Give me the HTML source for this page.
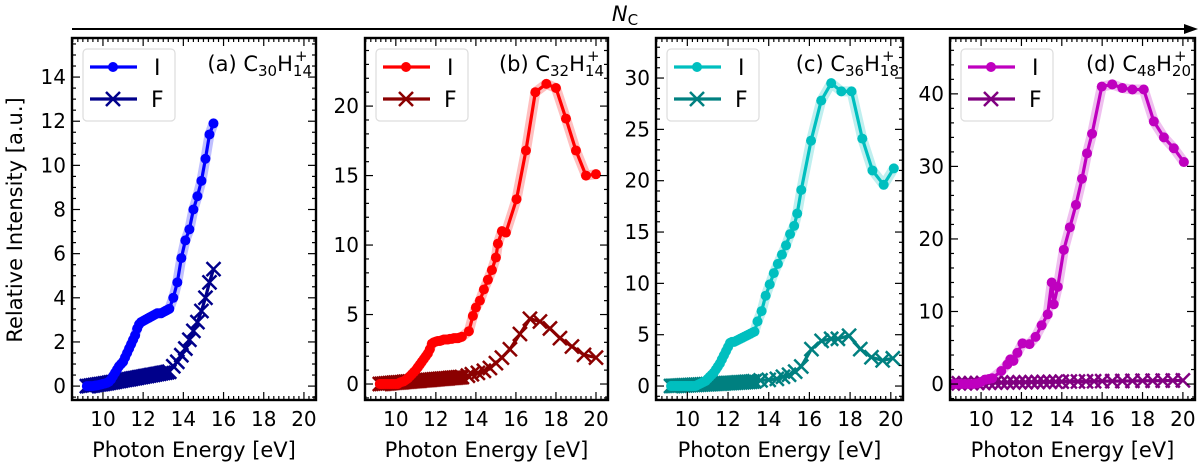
<!DOCTYPE html>
<html><head><meta charset="utf-8"><style>
html,body{margin:0;padding:0;background:#fff;}
svg{display:block;font-family:"DejaVu Sans","Liberation Sans",sans-serif;}
</style></head><body>
<svg id="fig" width="1200" height="466" viewBox="0 0 1200 466">
<g>
<line x1="72" y1="29" x2="1185" y2="29" stroke="#000" stroke-width="2"/>
<polygon points="1198,29 1184,24 1184,34" fill="#000"/>
<text x="625" y="21" font-size="21" font-style="italic" text-anchor="middle">N<tspan font-size="15" font-style="normal" dy="4">C</tspan></text>
</g>
<text transform="translate(22,220) rotate(-90)" font-size="21" text-anchor="middle">Relative Intensity [a.u.]</text>
</svg>
<script>
// shared dense energy grid (eV)
const denseE = [9.2,9.3,9.4,9.5,9.6,9.7,9.8,9.9,10.0,10.1,10.2,10.3,10.4,10.5,10.6,10.7,10.8,10.9,11.0,11.1,11.2,11.3,11.4,11.5,11.6,11.7,11.8,11.9,12.0,12.1,12.2,12.3,12.4,12.5,12.6,12.7,12.8,12.9,13.0,13.1,13.2,13.3];
// panel a
const aSparseE = [13.5,13.7,13.9,14.1,14.3,14.5,14.7,14.9,15.1,15.3,15.5];
const aIDense = [0,0,0,0,0.02,0.03,0.05,0.07,0.1,0.12,0.15,0.2,0.3,0.45,0.6,0.75,0.9,1.0,1.1,1.3,1.5,1.7,1.9,2.1,2.3,2.6,2.8,2.9,2.95,3.0,3.05,3.1,3.15,3.2,3.25,3.3,3.3,3.3,3.35,3.4,3.45,3.5];
const aISparse = [4.0,4.7,5.8,6.6,7.1,8.0,8.6,9.3,10.3,11.4,11.9];
const aFDense = [0,0,0.02,0.03,0.05,0.06,0.08,0.09,0.1,0.12,0.13,0.15,0.17,0.18,0.2,0.22,0.23,0.25,0.27,0.28,0.3,0.31,0.33,0.35,0.36,0.38,0.4,0.41,0.43,0.45,0.46,0.48,0.5,0.51,0.53,0.55,0.56,0.58,0.6,0.61,0.63,0.65];
const aFSparse = [0.9,1.1,1.4,1.7,2.1,2.5,2.9,3.4,4.0,4.7,5.3];
// panel b
const bISparseE = [13.65,13.85,14.0,14.2,14.4,14.6,14.8,15.0,15.1,15.3,15.5,16.03,16.5,16.97,17.52,18.0,18.5,19.0,19.5,20.0];
const bIDense = [0,0,0,0,0,0,0,0,0,0,0.1,0.15,0.2,0.3,0.4,0.55,0.7,0.85,1.0,1.2,1.4,1.6,1.8,2.0,2.2,2.5,2.9,3.0,3.05,3.1,3.1,3.15,3.2,3.2,3.2,3.25,3.25,3.3,3.3,3.3,3.35,3.4];
const bISparse = [3.8,4.9,5.5,6.0,6.8,7.5,8.2,9.1,10.1,11.0,10.9,13.3,16.8,21.0,21.6,21.3,19.1,16.8,15.0,15.1];
const bFSparseE = [13.6,13.8,14.1,14.4,14.7,15.0,15.3,15.7,16.2,16.7,17.2,17.7,18.2,18.8,19.4,20.0];
const bFDense = [0,0.01,0.02,0.04,0.05,0.06,0.07,0.09,0.1,0.11,0.12,0.13,0.15,0.16,0.17,0.18,0.2,0.21,0.22,0.23,0.24,0.26,0.27,0.28,0.29,0.3,0.32,0.33,0.34,0.35,0.37,0.38,0.39,0.4,0.41,0.43,0.44,0.45,0.46,0.48,0.49,0.5];
const bFSparse = [0.6,0.7,0.8,0.95,1.15,1.5,1.9,2.5,3.6,4.7,4.5,4.0,3.3,2.7,2.1,1.9];
// panel c
const cISparseE = [13.45,13.65,13.85,14.05,14.25,14.45,14.65,14.85,15.05,15.25,15.4,15.6,16.08,16.58,17.07,17.57,18.07,18.6,19.1,19.65,20.15];
const cIDense = [0,0,0,0,0,0,0,0,0,0,0,0,0,0.1,0.2,0.3,0.4,0.5,0.7,0.9,1.1,1.3,1.6,1.9,2.2,2.6,3.0,3.4,3.8,4.2,4.3,4.3,4.4,4.5,4.6,4.7,4.8,4.9,5.0,5.1,5.2,5.3];
const cISparse = [6.3,7.3,8.8,9.9,11.0,11.9,12.8,13.7,14.8,15.6,16.8,19.1,23.9,27.8,29.5,28.7,28.7,24.1,21.0,19.6,21.2];
const cFSparseE = [13.6,14.0,14.4,14.7,15.0,15.3,15.6,16.1,16.6,17.07,17.4,17.95,18.5,19.05,19.6,20.1];
const cFDense = [0,0.01,0.02,0.03,0.04,0.05,0.06,0.07,0.08,0.09,0.1,0.11,0.12,0.13,0.14,0.15,0.16,0.17,0.18,0.19,0.2,0.21,0.22,0.23,0.24,0.25,0.26,0.28,0.29,0.3,0.31,0.32,0.33,0.35,0.36,0.37,0.38,0.4,0.41,0.42,0.44,0.46];
const cFSparse = [0.55,0.6,0.7,0.9,1.1,1.4,1.9,3.6,4.4,4.6,4.6,4.9,3.6,2.8,2.5,2.7];
// panel d
const dIE = [8.6,8.8,9.0,9.2,9.4,9.6,9.8,10.0,10.2,10.4,10.55,11.0,11.3,11.45,11.6,11.8,12.05,12.4,12.7,13.0,13.3,13.5,13.6,13.8,14.1,14.4,14.7,15.0,15.25,15.5,15.98,16.5,17.0,17.5,18.06,18.56,19.06,19.55,20.05];
const dIV = [0,0,0,0,0,0,0.1,0.3,0.6,0.7,0.8,1.8,2.7,3.4,3.2,4.3,5.6,5.5,6.5,8.1,9.6,14.0,11.0,13.4,18.5,21.6,24.7,28.3,31.8,34.5,41.0,41.3,40.8,40.6,40.6,36.2,34.0,32.5,30.6];
const dFE = [8.6,8.9,9.2,9.5,9.8,10.1,10.4,10.7,11.0,11.3,11.6,11.9,12.2,12.5,12.8,13.1,13.4,13.7,14.0,14.4,14.8,15.2,15.6,16.0,16.5,17.0,17.5,18.0,18.5,19.0,19.5,20.0];
const dFV = [0.1,0.1,0.1,0.12,0.15,0.15,0.18,0.2,0.2,0.22,0.22,0.25,0.25,0.27,0.28,0.3,0.3,0.32,0.33,0.35,0.35,0.37,0.38,0.4,0.4,0.42,0.43,0.45,0.45,0.47,0.48,0.5];
// axis ticks
const xTickLabels = [10,12,14,16,18,20];
const aYTicks = [0,2,4,6,8,10,12,14];
const bYTicks = [0,5,10,15,20];
const cYTicks = [0,5,10,15,20,25,30];
const dYTicks = [0,10,20,30,40];

const NS = "http://www.w3.org/2000/svg";
const svg = document.getElementById('fig');
function mk(tag, attrs, parent){const e=document.createElementNS(NS,tag);for(const k in attrs)e.setAttribute(k,attrs[k]);(parent||svg).appendChild(e);return e;}

const panels = [
 {id:'a',x0:72,x1:316,ymin:-0.63,ymax:15.77,yt:aYTicks,ymin2:0.5,
  I:[denseE.concat(aSparseE), aIDense.concat(aISparse)], F:[denseE.concat(aSparseE), aFDense.concat(aFSparse)],
  cI:'#0000ff',cF:'#00008b',sub:'30',sub2:'14',lab:'(a)'},
 {id:'b',x0:365,x1:608,ymin:-1.15,ymax:24.9,yt:bYTicks,ymin2:1,
  I:[denseE.concat(bISparseE), bIDense.concat(bISparse)], F:[denseE.concat(bFSparseE), bFDense.concat(bFSparse)],
  cI:'#ff0000',cF:'#8b0000',sub:'32',sub2:'14',lab:'(b)'},
 {id:'c',x0:656,x1:903,ymin:-1.36,ymax:33.9,yt:cYTicks,ymin2:1,
  I:[denseE.concat(cISparseE), cIDense.concat(cISparse)], F:[denseE.concat(cFSparseE), cFDense.concat(cFSparse)],
  cI:'#00bfbf',cF:'#008080',sub:'36',sub2:'18',lab:'(c)'},
 {id:'d',x0:950,x1:1195,ymin:-2.2,ymax:47.7,yt:dYTicks,ymin2:2,
  I:[dIE,dIV], F:[dFE,dFV],
  cI:'#bf00bf',cF:'#800080',sub:'48',sub2:'20',lab:'(d)'}
];
const Y0=38, Y1=400, XMIN=8.46, XMAX=20.6;

panels.forEach(p=>{
  const g = mk('g',{});
  
  
  const sx = v => p.x0 + (v-XMIN)/(XMAX-XMIN)*(p.x1-p.x0);
  const sy = v => Y1 - (v-p.ymin)/(p.ymax-p.ymin)*(Y1-Y0);
  const clipId='clip'+p.id;
  const cp = mk('clipPath',{id:clipId},g); mk('rect',{x:p.x0,y:Y0,width:p.x1-p.x0,height:Y1-Y0},cp);
  const plot = mk('g',{'clip-path':'url(#'+clipId+')'},g);
  const ptsI = p.I[0].map((e,i)=>sx(e)+','+sy(p.I[1][i])).join(' ');
  const band = mk('polyline',{points:ptsI,fill:'none',stroke:p.cI,'stroke-opacity':0.25,'stroke-width':10,'stroke-linejoin':'round'},plot);
  
  
  const ptsF = p.F[0].map((e,i)=>sx(e)+','+sy(p.F[1][i])).join(' ');
  const lf = mk('polyline',{points:ptsF,fill:'none',stroke:p.cF,'stroke-width':3.2},plot);
  
  
  p.F[0].forEach((e,i)=>{
    const cx=sx(e), cy=sy(p.F[1][i]), s=7;
    const m = mk('path',{d:`M${cx-s},${cy-s}L${cx+s},${cy+s}M${cx-s},${cy+s}L${cx+s},${cy-s}`,stroke:p.cF,'stroke-width':2.5},plot);
    
    
  });
  const li = mk('polyline',{points:ptsI,fill:'none',stroke:p.cI,'stroke-width':3.2},plot);
  
  
  p.I[0].forEach((e,i)=>{
    const c = mk('circle',{cx:sx(e),cy:sy(p.I[1][i]),r:5,fill:p.cI},plot);
    
    
  });
  const tk = mk('g',{stroke:'#000','stroke-width':1.2},g);
  for(let v=8.5; v<=20.6; v+=0.25){
    const x=sx(v); const major = Math.abs(v/2-Math.round(v/2))<1e-6; const L = major?8:4;
    mk('line',{x1:x,y1:Y1,x2:x,y2:Y1-L},tk); mk('line',{x1:x,y1:Y0,x2:x,y2:Y0+L},tk);
  }
  const ystep = p.yt[1]-p.yt[0];
  for(let v=Math.ceil(p.ymin/p.ymin2)*p.ymin2; v<=p.ymax; v+=p.ymin2){
    const y=sy(v); const major = Math.abs(v/ystep-Math.round(v/ystep))<1e-6; const L=major?8:4;
    mk('line',{x1:p.x0,y1:y,x2:p.x0+L,y2:y},tk); mk('line',{x1:p.x1,y1:y,x2:p.x1-L,y2:y},tk);
  }
  xTickLabels.forEach(v=>{
    const t=mk('text',{x:sx(v),y:426,'font-size':20,'text-anchor':'middle'},g); t.textContent=v;
    
    
  });
  p.yt.forEach(v=>{
    const t=mk('text',{x:p.x0-6,y:sy(v)+7,'font-size':20,'text-anchor':'end'},g); t.textContent=v;
    
    
  });
  const fr = mk('rect',{x:p.x0,y:Y0,width:p.x1-p.x0,height:Y1-Y0,fill:'none',stroke:'#000','stroke-width':2.4},g);
  
  
  const xl=mk('text',{x:(p.x0+p.x1)/2,y:457,'font-size':21,'text-anchor':'middle'},g); xl.textContent='Photon Energy [eV]';
  
  
  const tt=mk('text',{x:p.x1-4,y:71,'font-size':21,'text-anchor':'end'},g);
  
  
  tt.innerHTML = p.lab+' C<tspan font-size="15" dy="5">'+p.sub+'</tspan><tspan dy="-5">H</tspan><tspan font-size="15" dy="5">'+p.sub2+'</tspan><tspan font-size="15" dx="-17" dy="-15">+</tspan>';
  const lg = mk('g',{},g);
  
  
  const lx=p.x0+11;
  mk('rect',{x:lx,y:49,width:92,height:72,rx:4,fill:'#fff','fill-opacity':0.85,stroke:'#ddd','stroke-width':1.2},lg);
  const e1 = mk('g',{},lg);
  
  
  mk('line',{x1:lx+7,y1:67,x2:lx+54,y2:67,stroke:p.cI,'stroke-width':3.2},e1);
  mk('circle',{cx:lx+30,cy:67,r:5,fill:p.cI},e1);
  const t1=mk('text',{x:lx+71,y:75,'font-size':22},e1); t1.textContent='I';
  const e2 = mk('g',{},lg);
  
  
  mk('line',{x1:lx+7,y1:99,x2:lx+54,y2:99,stroke:p.cF,'stroke-width':3.2},e2);
  mk('path',{d:`M${lx+23},92L${lx+37},106M${lx+23},106L${lx+37},92`,stroke:p.cF,'stroke-width':2.5},e2);
  const t2=mk('text',{x:lx+68,y:107,'font-size':22},e2); t2.textContent='F';
});
</script>
</body></html>
